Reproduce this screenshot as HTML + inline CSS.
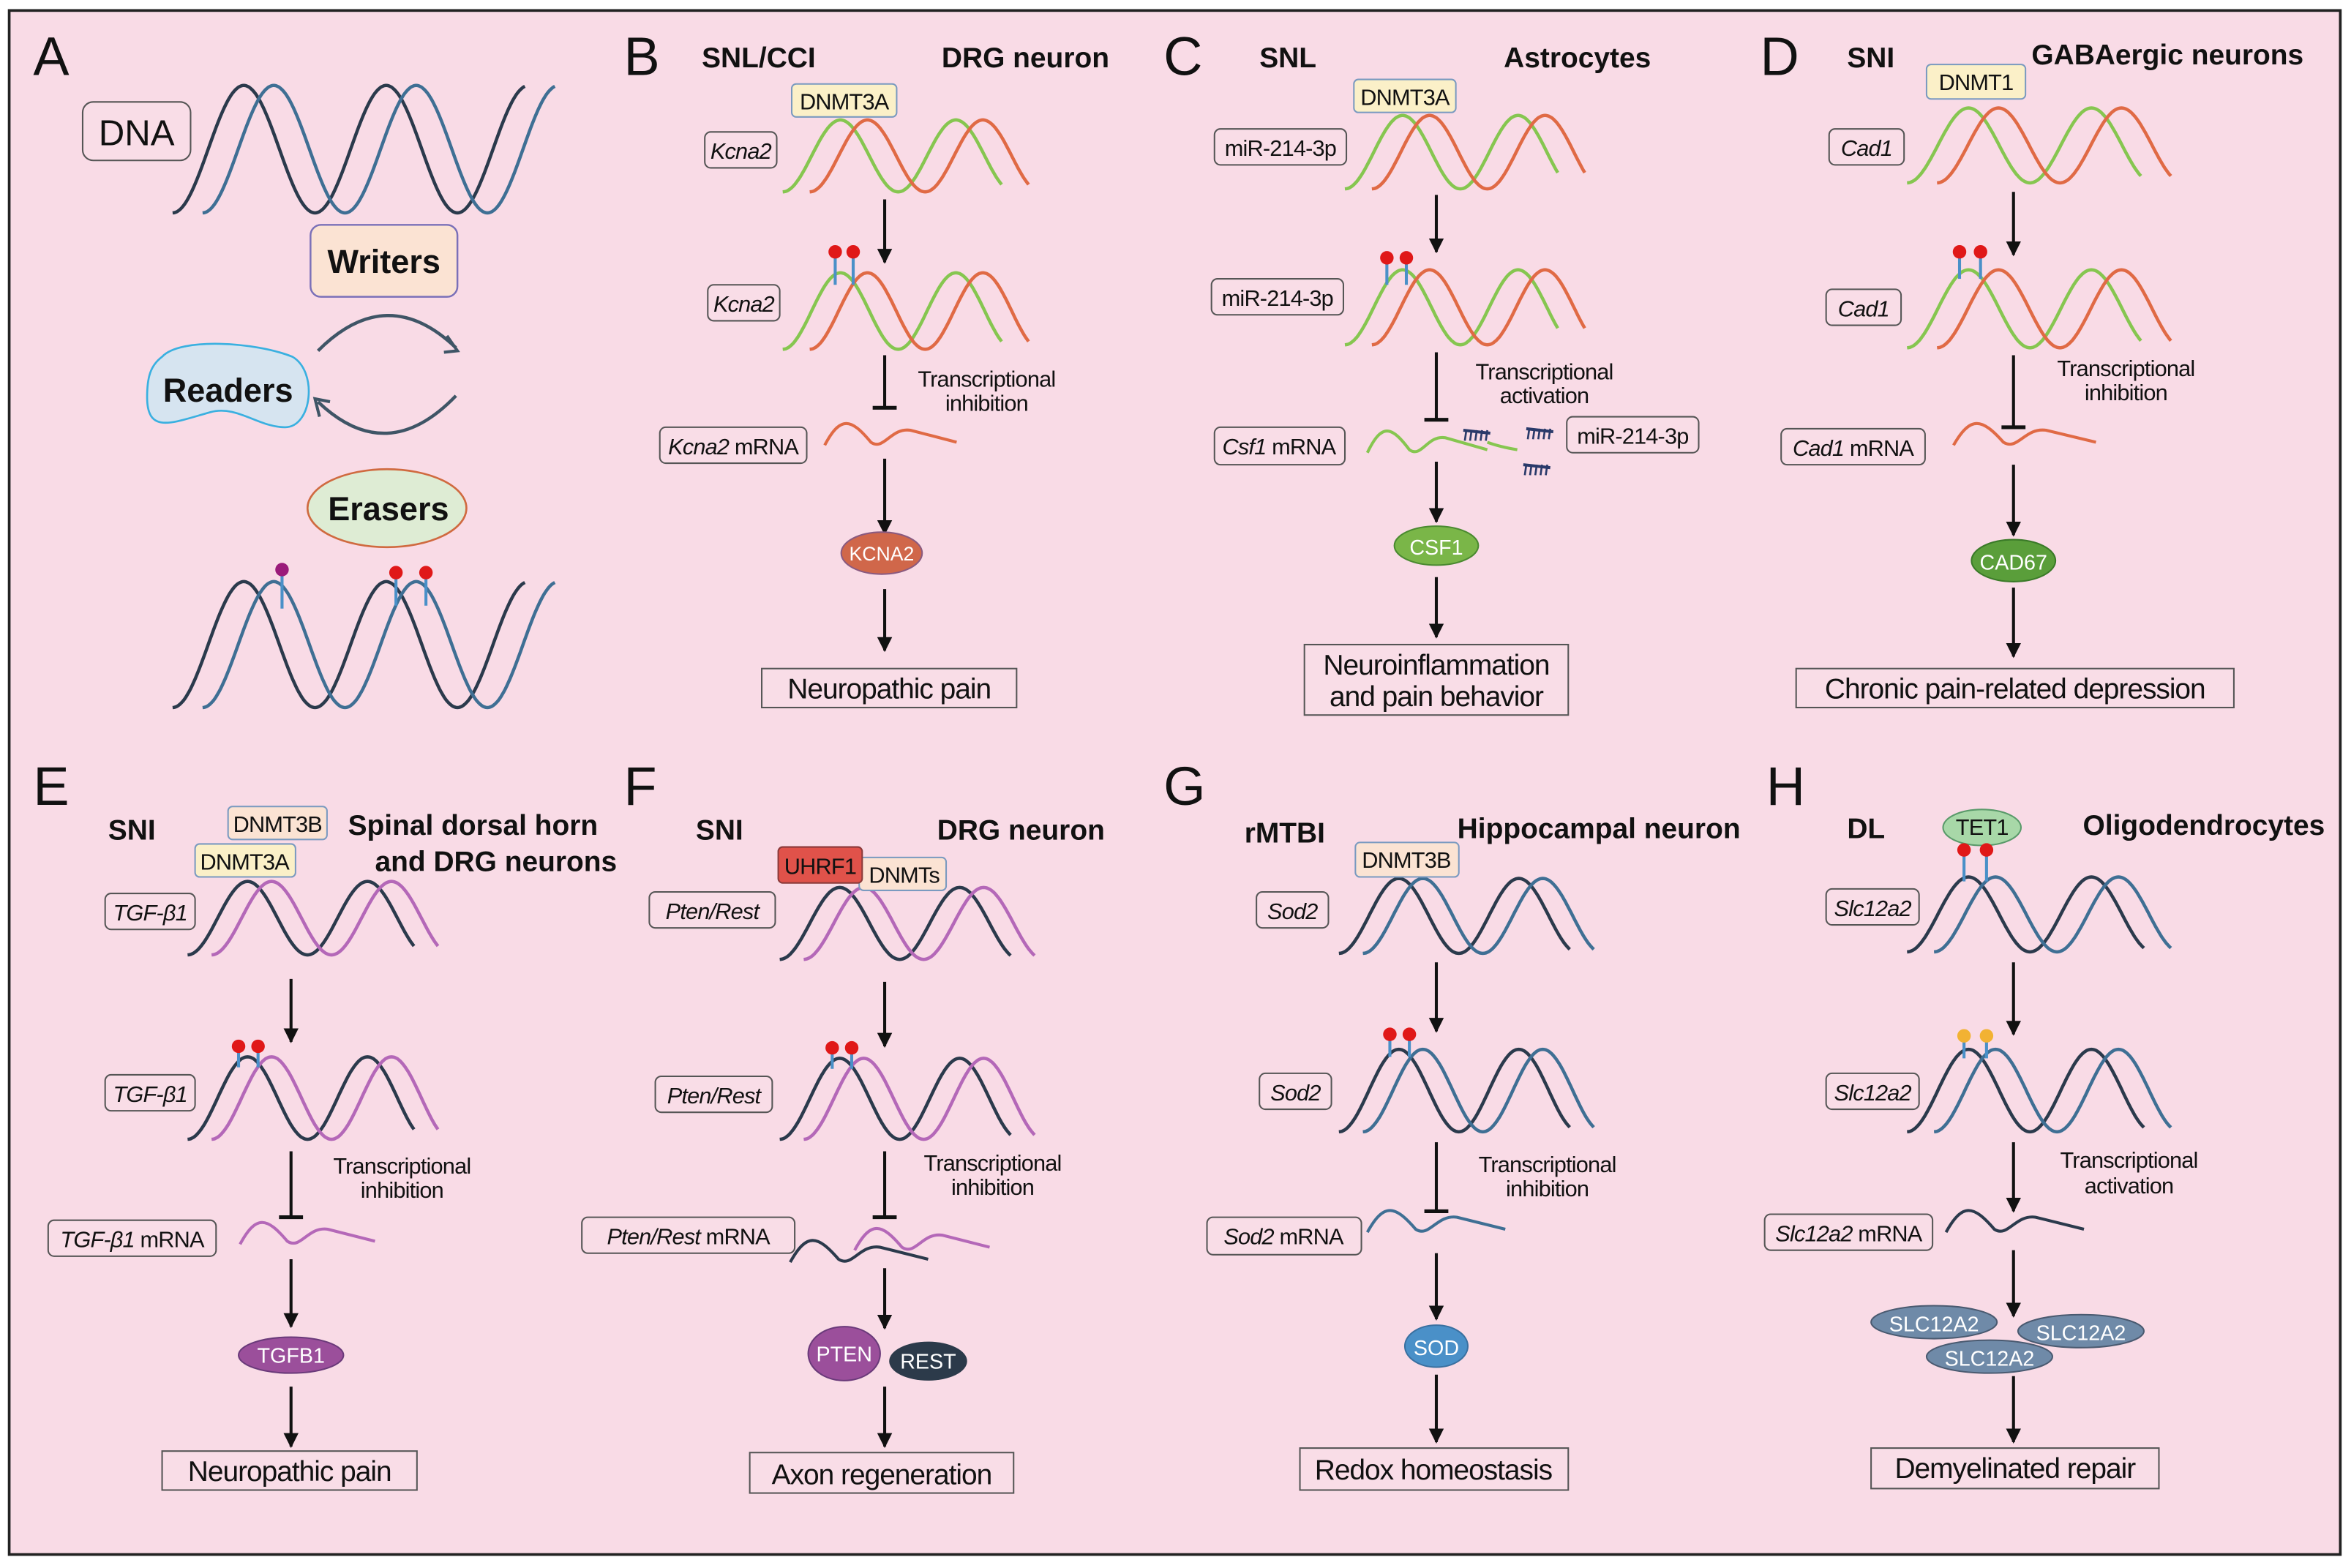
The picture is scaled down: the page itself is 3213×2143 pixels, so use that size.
<!DOCTYPE html>
<html><head><meta charset="utf-8"><style>
html,body{margin:0;padding:0;background:#fff}
svg{display:block}
text{font-family:"Liberation Sans Narrow","Liberation Sans",sans-serif;fill:#111}
.h{font-family:"Liberation Sans",sans-serif;font-weight:bold;font-size:19px}
.L{font-family:"Liberation Sans",sans-serif;font-size:36px}
.lb{font-size:15px;letter-spacing:-0.4px}
.it{font-style:italic}
.big{font-size:19px;letter-spacing:-0.5px}
.tx{font-size:15px;letter-spacing:-0.4px}
.bx{fill:#f9dde7;stroke:#555;stroke-width:1;}
.ar{stroke:#111;stroke-width:2;fill:none}
</style></head><body>
<svg id="s" width="3213" height="2143" viewBox="0 0 1568 1046" xmlns="http://www.w3.org/2000/svg">
<defs>
<marker id="ah" viewBox="0 0 10 10" refX="9" refY="5" markerWidth="5" markerHeight="5" orient="auto"><path d="M0,0L10,5L0,10z" fill="#111"/></marker>
</defs>
<rect x="0" y="0" width="1568" height="1046" fill="#fff"/>
<rect x="6" y="7" width="1555" height="1030" fill="#f9dbe6" stroke="#222" stroke-width="1.8"/>
<g id="g"></g>

<!-- Panel A -->
<text class="L" x="22" y="50">A</text>
<rect x="55" y="68" width="72" height="39" rx="7" class="bx" stroke="#333"/>
<text x="91" y="97" text-anchor="middle" style="font-size:24px">DNA</text>
<rect x="207" y="150" width="98" height="48" rx="7" fill="#fbe3d3" stroke="#7a70b8" stroke-width="1.2"/>
<text x="256" y="182" text-anchor="middle" style="font-size:22px;font-weight:bold;font-family:'Liberation Sans',sans-serif">Writers</text>
<path d="M212,234 Q258,188 304,232" stroke="#3f5566" stroke-width="2.2" fill="none"/>
<path d="M298,224 L305,234 L296,235" stroke="#3f5566" stroke-width="2" fill="none"/>
<path d="M304,264 Q258,312 212,268" stroke="#3f5566" stroke-width="2.2" fill="none"/>
<path d="M213,278 L210,266 L220,268" stroke="#3f5566" stroke-width="2" fill="none"/>
<path d="M108,238 C120,225 170,228 195,238 C212,248 208,285 190,285 C172,285 158,270 140,275 C115,282 98,290 98,265 C98,252 100,244 108,238z" fill="#d6e4f0" stroke="#3ab0e0" stroke-width="1.3"/>
<text x="152" y="268" text-anchor="middle" style="font-size:22px;font-weight:bold;font-family:'Liberation Sans',sans-serif">Readers</text>
<ellipse cx="258" cy="339" rx="53" ry="26" fill="#deecd4" stroke="#d06a40" stroke-width="1.3"/>
<text x="259" y="347" text-anchor="middle" style="font-size:22px;font-weight:bold;font-family:'Liberation Sans',sans-serif">Erasers</text>

<!-- Panel B -->
<text class="L" x="416" y="50">B</text>
<text class="h" x="468" y="45">SNL/CCI</text>
<text class="h" x="628" y="45">DRG neuron</text>
<rect x="528" y="56" width="70" height="22" rx="3" fill="#fbf0c8" stroke="#7a9ac0"/>
<text x="563" y="73" text-anchor="middle" class="lb">DNMT3A</text>
<rect x="470" y="88" width="48" height="24" rx="4" class="bx"/><text x="494" y="106" text-anchor="middle" class="lb it">Kcna2</text>
<rect x="472" y="190" width="48" height="24" rx="4" class="bx"/><text x="496" y="208" text-anchor="middle" class="lb it">Kcna2</text>
<rect x="440" y="285" width="98" height="24" rx="4" class="bx"/><text x="489" y="303" text-anchor="middle" class="lb"><tspan class="it">Kcna2</tspan> mRNA</text>
<text x="658" y="258" text-anchor="middle" class="tx">Transcriptional</text>
<text x="658" y="274" text-anchor="middle" class="tx">inhibition</text>
<ellipse cx="588" cy="369" rx="27" ry="14" fill="#d0674a" stroke="#8a5a80"/>
<text x="588" y="374" text-anchor="middle" style="font-size:13px;fill:#fff">KCNA2</text>
<rect x="508" y="446" width="170" height="26" class="bx" stroke="#222"/>
<text x="593" y="466" text-anchor="middle" class="big">Neuropathic pain</text>

<!-- Panel C -->
<text class="L" x="776" y="50">C</text>
<text class="h" x="840" y="45">SNL</text>
<text class="h" x="1003" y="45">Astrocytes</text>
<rect x="903" y="53" width="68" height="22" rx="3" fill="#fbf0c8" stroke="#7a9ac0"/>
<text x="937" y="70" text-anchor="middle" class="lb">DNMT3A</text>
<rect x="810" y="86" width="88" height="24" rx="4" class="bx"/><text x="854" y="104" text-anchor="middle" class="lb">miR-214-3p</text>
<rect x="808" y="186" width="88" height="24" rx="4" class="bx"/><text x="852" y="204" text-anchor="middle" class="lb">miR-214-3p</text>
<rect x="810" y="285" width="87" height="25" rx="4" class="bx"/><text x="853" y="303" text-anchor="middle" class="lb"><tspan class="it">Csf1</tspan> mRNA</text>
<rect x="1045" y="278" width="88" height="24" rx="4" class="bx"/><text x="1089" y="296" text-anchor="middle" class="lb">miR-214-3p</text>
<text x="1030" y="253" text-anchor="middle" class="tx">Transcriptional</text>
<text x="1030" y="269" text-anchor="middle" class="tx">activation</text>
<ellipse cx="958" cy="364" rx="28" ry="13" fill="#7ab648" stroke="#4a8a30"/>
<text x="958" y="370" text-anchor="middle" style="font-size:14px;fill:#fff">CSF1</text>
<rect x="870" y="430" width="176" height="47" class="bx" stroke="#222"/>
<text x="958" y="450" text-anchor="middle" class="big">Neuroinflammation</text>
<text x="958" y="471" text-anchor="middle" class="big">and pain behavior</text>

<!-- Panel D -->
<text class="L" x="1174" y="50">D</text>
<text class="h" x="1232" y="45">SNI</text>
<text class="h" x="1355" y="43">GABAergic neurons</text>
<rect x="1285" y="43" width="66" height="23" rx="3" fill="#fbf0c8" stroke="#7a9ac0"/>
<text x="1318" y="60" text-anchor="middle" class="lb">DNMT1</text>
<rect x="1220" y="86" width="50" height="24" rx="4" class="bx"/><text x="1245" y="104" text-anchor="middle" class="lb it">Cad1</text>
<rect x="1218" y="193" width="50" height="24" rx="4" class="bx"/><text x="1243" y="211" text-anchor="middle" class="lb it">Cad1</text>
<rect x="1188" y="286" width="96" height="24" rx="4" class="bx"/><text x="1236" y="304" text-anchor="middle" class="lb"><tspan class="it">Cad1</tspan> mRNA</text>
<text x="1418" y="251" text-anchor="middle" class="tx">Transcriptional</text>
<text x="1418" y="267" text-anchor="middle" class="tx">inhibition</text>
<ellipse cx="1343" cy="374" rx="28" ry="14" fill="#5a9e3a" stroke="#3a7a28"/>
<text x="1343" y="380" text-anchor="middle" style="font-size:14px;fill:#fff">CAD67</text>
<rect x="1198" y="446" width="292" height="26" class="bx" stroke="#222"/>
<text x="1344" y="466" text-anchor="middle" class="big">Chronic pain-related depression</text>

<!-- Panel E -->
<text class="L" x="22" y="537">E</text>
<text class="h" x="72" y="560">SNI</text>
<rect x="152" y="538" width="66" height="22" rx="3" fill="#fbe3d3" stroke="#7a9ac0"/>
<text x="185" y="555" text-anchor="middle" class="lb">DNMT3B</text>
<rect x="130" y="563" width="67" height="22" rx="3" fill="#fbf0c8" stroke="#7a9ac0"/>
<text x="163" y="580" text-anchor="middle" class="lb">DNMT3A</text>
<text class="h" x="232" y="557">Spinal dorsal horn</text>
<text class="h" x="250" y="581">and DRG neurons</text>
<rect x="70" y="596" width="60" height="24" rx="4" class="bx"/><text x="100" y="614" text-anchor="middle" class="lb it">TGF-β1</text>
<rect x="70" y="717" width="60" height="24" rx="4" class="bx"/><text x="100" y="735" text-anchor="middle" class="lb it">TGF-β1</text>
<rect x="32" y="814" width="112" height="24" rx="4" class="bx"/><text x="88" y="832" text-anchor="middle" class="lb"><tspan class="it">TGF-β1</tspan> mRNA</text>
<text x="268" y="783" text-anchor="middle" class="tx">Transcriptional</text>
<text x="268" y="799" text-anchor="middle" class="tx">inhibition</text>
<ellipse cx="194" cy="904" rx="35" ry="12" fill="#9b4f9b" stroke="#6a3a7a"/>
<text x="194" y="909" text-anchor="middle" style="font-size:14px;fill:#fff">TGFB1</text>
<rect x="108" y="968" width="170" height="26" class="bx" stroke="#222"/>
<text x="193" y="988" text-anchor="middle" class="big">Neuropathic pain</text>

<!-- Panel F -->
<text class="L" x="416" y="537">F</text>
<text class="h" x="464" y="560">SNI</text>
<text class="h" x="625" y="560">DRG neuron</text>
<rect x="573" y="572" width="58" height="22" rx="3" fill="#fbe3d3" stroke="#7a9ac0"/>
<text x="603" y="589" text-anchor="middle" class="lb">DNMTs</text>
<rect x="519" y="565" width="56" height="24" rx="3" fill="#e0524a" stroke="#8a3a3a"/>
<text x="547" y="583" text-anchor="middle" class="lb">UHRF1</text>
<rect x="433" y="595" width="84" height="24" rx="4" class="bx"/><text x="475" y="613" text-anchor="middle" class="lb it">Pten/Rest</text>
<rect x="437" y="718" width="78" height="24" rx="4" class="bx"/><text x="476" y="736" text-anchor="middle" class="lb it">Pten/Rest</text>
<rect x="388" y="812" width="142" height="24" rx="4" class="bx"/><text x="459" y="830" text-anchor="middle" class="lb"><tspan class="it">Pten/Rest</tspan> mRNA</text>
<text x="662" y="781" text-anchor="middle" class="tx">Transcriptional</text>
<text x="662" y="797" text-anchor="middle" class="tx">inhibition</text>
<ellipse cx="619" cy="908" rx="26" ry="13" fill="#2c3a4a"/>
<text x="619" y="913" text-anchor="middle" style="font-size:14px;fill:#fff">REST</text>
<ellipse cx="563" cy="903" rx="24" ry="18" fill="#9b4f9b" stroke="#6a3a7a"/>
<text x="563" y="908" text-anchor="middle" style="font-size:14px;fill:#fff">PTEN</text>
<rect x="500" y="969" width="176" height="27" class="bx" stroke="#222"/>
<text x="588" y="990" text-anchor="middle" class="big">Axon regeneration</text>

<!-- Panel G -->
<text class="L" x="776" y="537">G</text>
<text class="h" x="830" y="562">rMTBI</text>
<text class="h" x="972" y="559">Hippocampal neuron</text>
<rect x="904" y="562" width="69" height="23" rx="3" fill="#fbe3d3" stroke="#7a9ac0"/>
<text x="938" y="579" text-anchor="middle" class="lb">DNMT3B</text>
<rect x="838" y="595" width="48" height="24" rx="4" class="bx"/><text x="862" y="613" text-anchor="middle" class="lb it">Sod2</text>
<rect x="840" y="716" width="48" height="24" rx="4" class="bx"/><text x="864" y="734" text-anchor="middle" class="lb it">Sod2</text>
<rect x="805" y="812" width="103" height="25" rx="4" class="bx"/><text x="856" y="830" text-anchor="middle" class="lb"><tspan class="it">Sod2</tspan> mRNA</text>
<text x="1032" y="782" text-anchor="middle" class="tx">Transcriptional</text>
<text x="1032" y="798" text-anchor="middle" class="tx">inhibition</text>
<ellipse cx="958" cy="898" rx="21" ry="14" fill="#4a90c8" stroke="#3a70a0"/>
<text x="958" y="904" text-anchor="middle" style="font-size:14px;fill:#fff">SOD</text>
<rect x="867" y="966" width="179" height="28" class="bx" stroke="#222"/>
<text x="956" y="987" text-anchor="middle" class="big">Redox homeostasis</text>

<!-- Panel H -->
<text class="L" x="1178" y="537">H</text>
<text class="h" x="1232" y="559">DL</text>
<text class="h" x="1470" y="557" text-anchor="middle">Oligodendrocytes</text>
<rect x="1218" y="593" width="62" height="24" rx="4" class="bx"/><text x="1249" y="611" text-anchor="middle" class="lb it">Slc12a2</text>
<rect x="1218" y="716" width="62" height="24" rx="4" class="bx"/><text x="1249" y="734" text-anchor="middle" class="lb it">Slc12a2</text>
<rect x="1177" y="810" width="112" height="24" rx="4" class="bx"/><text x="1233" y="828" text-anchor="middle" class="lb"><tspan class="it">Slc12a2</tspan> mRNA</text>
<text x="1420" y="779" text-anchor="middle" class="tx">Transcriptional</text>
<text x="1420" y="796" text-anchor="middle" class="tx">activation</text>
<ellipse cx="1290" cy="882" rx="42" ry="11" fill="#6f8aa8" stroke="#4a5a70"/>
<text x="1290" y="888" text-anchor="middle" style="font-size:14px;fill:#fff">SLC12A2</text>
<ellipse cx="1388" cy="888" rx="42" ry="11" fill="#6f8aa8" stroke="#4a5a70"/>
<text x="1388" y="894" text-anchor="middle" style="font-size:14px;fill:#fff">SLC12A2</text>
<ellipse cx="1327" cy="905" rx="42" ry="11" fill="#6f8aa8" stroke="#4a5a70"/>
<text x="1327" y="911" text-anchor="middle" style="font-size:14px;fill:#fff">SLC12A2</text>
<rect x="1248" y="966" width="192" height="27" class="bx" stroke="#222"/>
<text x="1344" y="986" text-anchor="middle" class="big">Demyelinated repair</text>
<g id="top"></g>
<text x="1322" y="557" text-anchor="middle" class="lb" id="tet">TET1</text>
</svg>
<script>
var NS="http://www.w3.org/2000/svg",G=document.getElementById('g'),T=document.getElementById('top');
function el(p,t,a){var e=document.createElementNS(NS,t);for(var k in a)e.setAttribute(k,a[k]);p.appendChild(e);return e;}
function strand(x0,x1,y0,y1,P,c){var m=(y0+y1)/2,A=(y1-y0)/2,d='';for(var x=x0;x<=x1;x+=1){var y=m+A*Math.cos(2*Math.PI*(x-x0)/P);d+=(x==x0?'M':'L')+x.toFixed(1)+','+y.toFixed(1);}el(G,'path',{d:d,stroke:c,'stroke-width':2.2,fill:'none'});}
function helix(x,w,y0,y1,P,off,c1,c2){strand(x,x+w-off,y0,y1,P,c1);strand(x+off,x+w,y0,y1,P,c2);}
function arrow(x,a,b){el(G,'line',{x1:x,y1:a,x2:x,y2:b,class:'ar','marker-end':'url(#ah)'});}
function inh(x,a,b){el(G,'line',{x1:x,y1:a,x2:x,y2:b,class:'ar'});el(G,'line',{x1:x-8,y1:b,x2:x+8,y2:b,stroke:'#111','stroke-width':2.5});}
function lol(x,top,bot,c){el(T,'line',{x1:x,y1:top,x2:x,y2:bot,stroke:'#4a90c8','stroke-width':2});el(T,'circle',{cx:x,cy:top,r:4.5,fill:c});}
function mrna(x,y,w,c){var d='M'+x+','+(y+12)+' C'+(x+w*0.12)+','+(y-8)+' '+(x+w*0.2)+','+(y-6)+' '+(x+w*0.35)+','+(y+10)+' C'+(x+w*0.45)+','+(y+16)+' '+(x+w*0.5)+','+(y)+' '+(x+w*0.65)+','+(y+2)+' L'+(x+w)+','+(y+10);el(G,'path',{d:d,stroke:c,'stroke-width':2,fill:'none'});}
var dk='#2b3a4c',bl='#3f6f94',gr='#86c650',rd='#e06a45',pu='#b468b8';
helix(115,255,57,142,95,20,dk,bl);
helix(115,255,388,472,95,20,dk,bl);
lol(188,380,406,'#9b1a7a');lol(264,382,404,'#e01818');lol(284,382,404,'#e01818');
helix(522,164,80,128,77,18,gr,rd);helix(522,164,182,233,77,18,gr,rd);
lol(557,168,190,'#e01818');lol(569,168,190,'#e01818');
arrow(590,133,175);inh(590,237,272);mrna(550,285,88,rd);arrow(590,306,356);arrow(590,393,434);
helix(897,160,77,126,77,18,gr,rd);helix(897,160,180,230,77,18,gr,rd);
lol(925,172,190,'#e01818');lol(938,172,190,'#e01818');
arrow(958,130,168);inh(958,235,280);mrna(912,290,80,gr);
el(G,'path',{d:'M992,295 Q1000,298 1012,300',stroke:gr,'stroke-width':2,fill:'none'});
function comb(x,y){el(G,'line',{x1:x,y1:y,x2:x+18,y2:y+2,stroke:'#2a3a6a','stroke-width':2});for(var i=0;i<5;i++)el(G,'line',{x1:x+2+i*3.5,y1:y,x2:x+1+i*3.5,y2:y+7,stroke:'#2a3a6a','stroke-width':1.3});}
comb(976,287);comb(1018,286);comb(1016,310);
arrow(958,308,348);arrow(958,385,425);
helix(1272,176,72,122,82,20,gr,rd);helix(1272,176,180,232,82,20,gr,rd);
lol(1307,168,186,'#e01818');lol(1321,168,186,'#e01818');
arrow(1343,128,170);inh(1343,237,285);mrna(1303,285,95,rd);arrow(1343,310,357);arrow(1343,392,438);
helix(125,167,588,637,80,16,dk,pu);helix(125,167,705,760,80,16,dk,pu);
lol(159,698,712,'#e01818');lol(172,698,712,'#e01818');
arrow(194,653,695);inh(194,768,812);mrna(160,818,90,pu);arrow(194,840,885);arrow(194,925,965);
helix(520,170,592,640,80,16,dk,pu);helix(520,170,706,760,80,16,dk,pu);
lol(555,699,713,'#e01818');lol(568,699,713,'#e01818');
arrow(590,655,698);inh(590,768,812);mrna(570,822,90,pu);mrna(527,830,92,dk);arrow(590,846,886);arrow(590,925,965);
helix(893,170,586,636,80,16,dk,bl);helix(893,170,700,755,80,16,dk,bl);
lol(927,690,705,'#e01818');lol(940,690,705,'#e01818');
arrow(958,642,688);inh(958,762,808);mrna(912,810,92,bl);arrow(958,836,880);arrow(958,917,962);
helix(1272,176,585,635,82,18,dk,bl);helix(1272,176,700,755,82,18,dk,bl);
el(T,'ellipse',{cx:1322,cy:552,rx:26,ry:12,fill:'#a8d8a8',stroke:'#5a9a6a'});
lol(1310,567,588,'#e01818');lol(1325,567,588,'#e01818');
lol(1310,691,706,'#f2b233');lol(1325,691,706,'#f2b233');
arrow(1343,642,690);arrow(1343,762,808);mrna(1298,810,92,dk);arrow(1343,834,878);arrow(1343,918,962);
</script>
</body></html>
